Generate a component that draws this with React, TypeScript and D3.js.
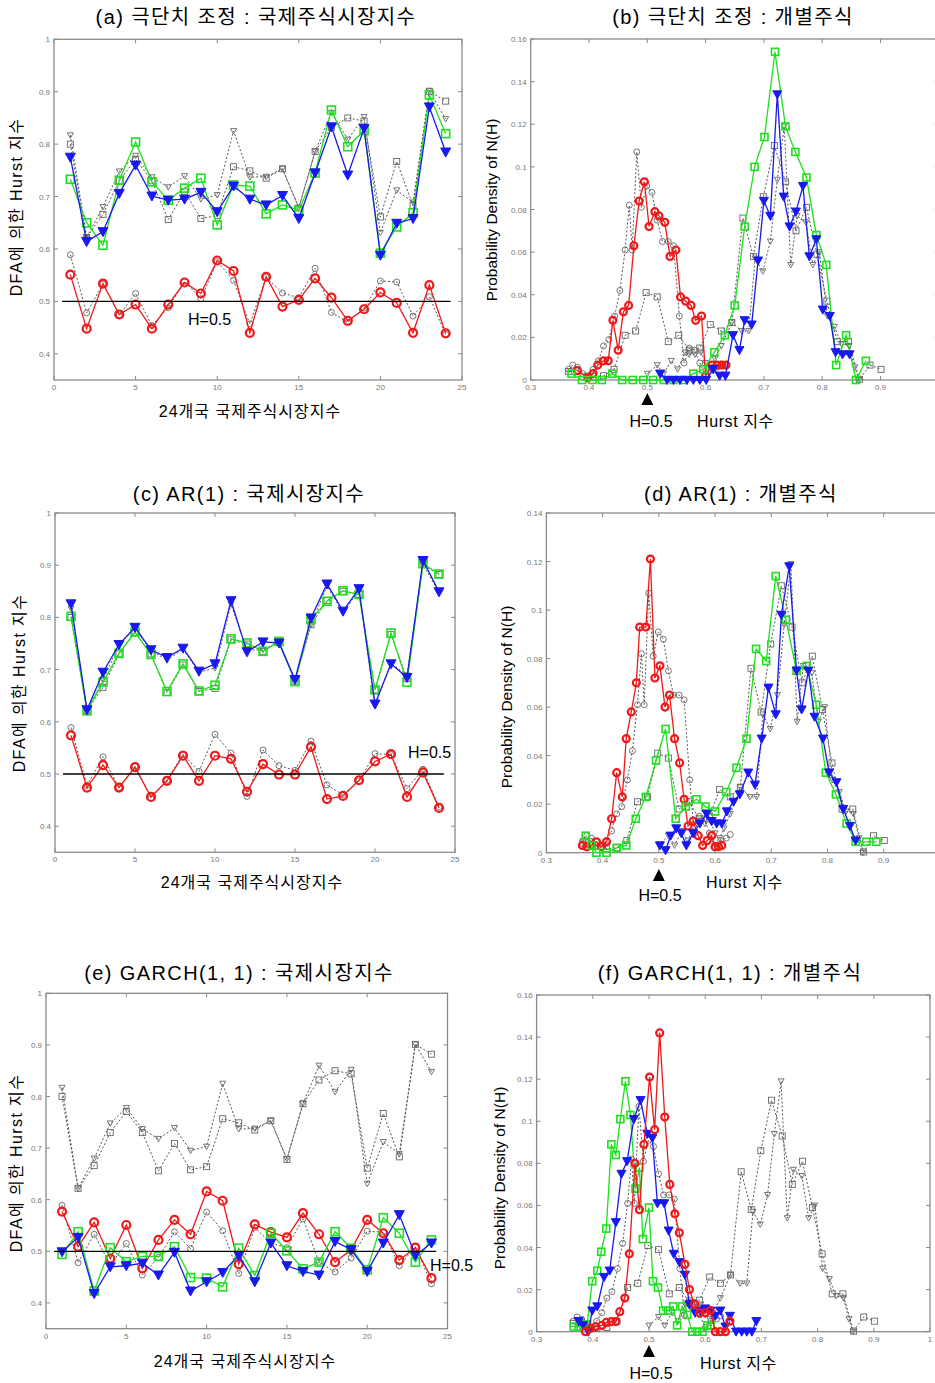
import React from "react";
import * as d3 from "d3";

// ---------- DATA ----------
const markets = d3.range(1, 25); // 24 national stock market indices

// original (unadjusted) DFA Hurst exponents — grey dotted series shared by (a),(c),(e)
const origTriangle = [0.817,0.622,0.680,0.748,0.778,0.737,0.718,0.739,0.695,0.703,0.825,0.737,0.738,0.753,0.679,0.786,0.860,0.809,0.852,0.631,0.712,0.689,0.901,0.848];
const origSquare = [0.800,0.622,0.666,0.730,0.771,0.730,0.656,0.709,0.658,0.664,0.757,0.749,0.735,0.753,0.678,0.786,0.832,0.850,0.844,0.661,0.767,0.683,0.901,0.882];
const origCircle = [0.589,0.478,0.533,0.474,0.515,0.454,0.488,0.538,0.505,0.576,0.540,0.457,0.546,0.516,0.507,0.563,0.479,0.460,0.487,0.539,0.537,0.472,0.509,0.437];

// (a) outlier adjusted
const aBlue = [0.775,0.614,0.633,0.706,0.760,0.701,0.693,0.695,0.708,0.671,0.720,0.695,0.684,0.702,0.658,0.745,0.833,0.741,0.830,0.588,0.649,0.658,0.871,0.785];
const aGreen = [0.733,0.650,0.607,0.731,0.804,0.728,0.693,0.716,0.735,0.646,0.722,0.720,0.667,0.684,0.674,0.745,0.865,0.795,0.826,0.592,0.642,0.669,0.894,0.820];
const aRed = [0.551,0.448,0.534,0.475,0.494,0.448,0.494,0.536,0.515,0.578,0.558,0.440,0.547,0.490,0.503,0.544,0.507,0.463,0.485,0.517,0.497,0.440,0.531,0.439];

// (c) AR(1)
const cBlue = [0.826,0.623,0.695,0.748,0.781,0.738,0.723,0.741,0.697,0.711,0.832,0.734,0.753,0.751,0.681,0.799,0.864,0.812,0.855,0.634,0.711,0.685,0.909,0.849];
const cGreen = [0.802,0.621,0.676,0.731,0.772,0.729,0.658,0.711,0.659,0.670,0.759,0.751,0.735,0.754,0.677,0.796,0.831,0.851,0.844,0.661,0.770,0.676,0.903,0.883];
const cRed = [0.574,0.474,0.517,0.474,0.513,0.456,0.487,0.535,0.487,0.535,0.529,0.466,0.519,0.499,0.499,0.552,0.452,0.458,0.488,0.524,0.538,0.456,0.503,0.435];

// (e) GARCH(1,1)
const eBlue = [0.499,0.527,0.418,0.470,0.472,0.477,0.454,0.498,0.423,0.441,0.459,0.492,0.441,0.516,0.472,0.461,0.454,0.519,0.503,0.461,0.516,0.571,0.492,0.516];
const eGreen = [0.494,0.538,0.423,0.507,0.480,0.490,0.490,0.509,0.449,0.448,0.431,0.506,0.453,0.535,0.501,0.466,0.479,0.538,0.506,0.464,0.565,0.535,0.479,0.522];
const eRed = [0.577,0.509,0.556,0.486,0.551,0.467,0.522,0.561,0.533,0.616,0.598,0.475,0.552,0.537,0.527,0.574,0.533,0.479,0.503,0.561,0.535,0.483,0.507,0.448];

// density of N(H) — original individual stocks (grey dotted, shared by (b),(d),(f))
const densOrigCircle: [number, number][] = [[.365,.005],[.372,.007],[.380,.006],[.389,.003],[.398,.002],[.407,.005],[.416,.009],[.425,.016],[.434,.019],[.444,.030],[.453,.042],[.462,.061],[.469,.082],[.474,.061],[.482,.107],[.490,.081],[.499,.091],[.508,.088],[.517,.075],[.526,.065],[.536,.065],[.545,.063],[.555,.030],[.563,.008],[.572,.015],[.581,.014],[.590,.008],[.600,.002],[.610,.005],[.620,.006],[.627,.0075]];
const densOrigSquare: [number, number][] = [[.365,.004],[.380,.0045],[.407,.0016],[.425,.002],[.443,.005],[.462,.021],[.480,.023],[.498,.041],[.517,.039],[.536,.018],[.554,.021],[.572,.014],[.590,.015],[.608,.026],[.627,.023],[.645,.027],[.664,.076],[.682,.058],[.699,.086],[.718,.110],[.737,.093],[.755,.070],[.773,.081],[.791,.059],[.808,.037],[.826,.018],[.845,.018],[.864,.0003],[.882,.007],[.901,.005]];
const densOrigTriangle: [number, number][] = [[.500,.003],[.517,.007],[.528,.003],[.541,.009],[.552,.005],[.565,.013],[.572,.012],[.582,.012],[.592,.013],[.600,.008],[.608,.006],[.616,.010],[.627,.016],[.645,.027],[.662,.023],[.674,.023],[.685,.057],[.698,.051],[.711,.065],[.723,.094],[.735,.119],[.746,.054],[.757,.077],[.772,.074],[.784,.054],[.795,.060],[.809,.030],[.821,.025],[.833,.017],[.846,.016],[.856,.006],[.863,0]];

// (b) outlier adjusted
const bRed: [number, number][] = [[.380,.0044],[.398,.001],[.407,.003],[.415,.007],[.425,.009],[.433,.009],[.441,.028],[.450,.014],[.459,.032],[.468,.035],[.477,.063],[.486,.084],[.495,.093],[.503,.072],[.513,.079],[.520,.077],[.530,.074],[.539,.058],[.549,.061],[.557,.039],[.566,.037],[.575,.035],[.583,.028],[.593,.030],[.600,.002],[.611,.007],[.620,.007],[.628,.007],[.635,.007]];
const bGreen: [number, number][] = [[.370,.003],[.388,0],[.406,0],[.422,0],[.440,.003],[.457,0],[.475,0],[.493,0],[.510,0],[.528,0],[.545,0],[.562,0],[.579,.003],[.596,.005],[.615,.013],[.633,.021],[.650,.035],[.667,.072],[.684,.100],[.701,.114],[.719,.154],[.737,.119],[.754,.107],[.773,.095],[.790,.068],[.807,.054],[.824,.007],[.841,.021],[.858,0],[.875,.009]];
const bBlue: [number, number][] = [[.522,.003],[.534,0],[.545,0],[.556,0],[.568,0],[.579,0],[.590,0],[.601,0],[.613,.005],[.624,.002],[.634,.002],[.647,.021],[.658,.014],[.667,.028],[.679,.026],[.690,.056],[.700,.084],[.711,.077],[.723,.134],[.734,.086],[.744,.072],[.755,.079],[.767,.091],[.778,.058],[.790,.066],[.801,.033],[.813,.030],[.823,.013],[.835,.012],[.847,.012]];

// (d) AR(1)
const dRed: [number, number][] = [[.364,.003],[.372,.0025],[.380,.003],[.389,.0045],[.398,.0025],[.407,.0045],[.416,.014],[.425,.033],[.435,.023],[.442,.047],[.451,.058],[.460,.070],[.466,.093],[.477,.093],[.485,.121],[.493,.072],[.502,.077],[.511,.060],[.519,.065],[.528,.047],[.537,.037],[.545,.022],[.552,.011],[.561,.013],[.570,.007],[.578,.003],[.586,.005],[.594,.007],[.600,.0025],[.606,.0025],[.612,.003]];
const dGreen: [number, number][] = [[.370,.007],[.380,.003],[.389,0],[.407,0],[.425,.002],[.442,.003],[.459,.014],[.477,.023],[.495,.038],[.512,.051],[.530,.014],[.548,.019],[.567,.022],[.583,.019],[.600,.017],[.620,.025],[.638,.035],[.656,.047],[.673,.084],[.691,.079],[.708,.114],[.726,.096],[.745,.075],[.763,.077],[.780,.061],[.797,.033],[.815,.024],[.834,.012],[.850,.0045],[.869,.0045],[.887,.0045]];
const dBlue: [number, number][] = [[.502,.003],[.512,.001],[.521,.007],[.531,.010],[.540,.008],[.549,.003],[.561,.008],[.573,.012],[.585,.016],[.594,.013],[.603,.012],[.612,.012],[.621,.017],[.633,.021],[.644,.024],[.659,.033],[.671,.028],[.683,.047],[.695,.068],[.708,.057],[.718,.098],[.732,.118],[.745,.075],[.754,.059],[.766,.075],[.777,.056],[.792,.047],[.803,.033],[.816,.029],[.828,.018],[.840,.011],[.850,.005]];

// (f) GARCH(1,1)
const fRed: [number, number][] = [[.387,0],[.396,.0016],[.405,.0024],[.416,.003],[.424,.0044],[.433,.0048],[.441,.0048],[.448,.0095],[.457,.016],[.465,.037],[.475,.080],[.483,.058],[.491,.089],[.501,.121],[.510,.096],[.519,.142],[.528,.102],[.537,.070],[.546,.056],[.554,.047],[.564,.032],[.572,.020],[.581,.013],[.590,.009],[.600,.009],[.609,.010],[.618,0],[.627,0],[.636,0],[.644,.005]];
const fBlue: [number, number][] = [[.375,.005],[.383,.003],[.392,0],[.399,.010],[.408,.012],[.420,.026],[.430,.029],[.441,.052],[.451,.075],[.461,.081],[.473,.101],[.485,.110],[.497,.094],[.506,.092],[.515,.061],[.527,.061],[.535,.048],[.544,.037],[.554,.033],[.564,.027],[.572,.013],[.582,.009],[.591,.010],[.600,.011],[.609,.010],[.618,.0075],[.627,.010],[.636,.0024],[.644,.0075],[.655,0],[.665,0],[.674,0],[.683,0],[.691,.005]];
const fGreen: [number, number][] = [[.366,.0024],[.375,.0024],[.383,.003],[.390,.0035],[.399,.024],[.408,.029],[.415,.038],[.424,.049],[.433,.089],[.441,.084],[.449,.101],[.458,.119],[.467,.103],[.476,.068],[.483,.078],[.489,.044],[.500,.059],[.507,.024],[.516,.021],[.525,.010],[.534,.010],[.543,.012],[.550,.003],[.559,.012],[.568,.008],[.577,0],[.586,0],[.595,0],[.604,.003],[.610,.003]];

const lineXTicks = [0, 5, 10, 15, 20, 25];
const lineYTicks = [0.4, 0.5, 0.6, 0.7, 0.8, 0.9, 1];
const densXTicks = [0.3, 0.4, 0.5, 0.6, 0.7, 0.8, 0.9, 1];

// ---------- STYLE ----------
const FONT = "'Liberation Sans', Arial, 'Noto Sans CJK KR', sans-serif";
const RED = "#f01818";
const GREEN = "#1ee01e";
const BLUE = "#1818f0";
const GREY = "#666";
const AXIS = "#8a8a8a";
const W = 935;

type Kind = "circle" | "square" | "triangle";
type Style = { kind: Kind; color: string; grey: boolean };

function Marker({ kind, x, y, color, grey, big }: { kind: Kind; x: number; y: number; color: string; grey: boolean; big: boolean }) {
  const s = grey ? 6 : big ? 8 : 7;
  const sw = grey ? 0.9 : kind === "circle" ? 2.2 : 1.6;
  if (kind === "circle") return <circle cx={x} cy={y} r={s / 2} fill="none" stroke={color} strokeWidth={sw} />;
  if (kind === "square") return <rect x={x - s / 2} y={y - s / 2} width={s} height={s} fill="none" stroke={color} strokeWidth={sw} />;
  const t = grey ? s : s + 2;
  const d = `M${x - t / 2},${y - t * 0.4}L${x + t / 2},${y - t * 0.4}L${x},${y + t * 0.5}Z`;
  return <path d={d} fill={grey ? "none" : color} stroke={color} strokeWidth={grey ? 0.9 : 1} />;
}

function Series({ pts, st, big }: { pts: [number, number][]; st: Style; big: boolean }) {
  const line = d3.line<[number, number]>().x((d) => d[0]).y((d) => d[1]);
  return (
    <g>
      <path d={line(pts) || ""} fill="none" stroke={st.grey ? "#555" : st.color} strokeWidth={st.grey ? 1 : 1.3} strokeDasharray={st.grey ? "2,2" : undefined} />
      {pts.map((p, i) => (
        <Marker key={i} kind={st.kind} x={p[0]} y={p[1]} color={st.grey ? GREY : st.color} grey={st.grey} big={big} />
      ))}
    </g>
  );
}

function Frame({ x, y, xTicks, yTicks, fmtX, fmtY }: any) {
  const [xl, xr] = x.range();
  const [yb, yt] = y.range();
  const tl = 4;
  return (
    <g>
      <rect x={xl} y={yt} width={xr - xl} height={yb - yt} fill="none" stroke={AXIS} strokeWidth={1.3} />
      {xTicks.map((t: number) => (
        <g key={"x" + t}>
          <line x1={x(t)} x2={x(t)} y1={yb} y2={yb - tl} stroke={AXIS} />
          <line x1={x(t)} x2={x(t)} y1={yt} y2={yt + tl} stroke={AXIS} />
          {x(t) < W - 4 && (
            <text x={x(t)} y={yb + 10} fontSize={8} fill="#777" textAnchor="middle" fontFamily={FONT}>{fmtX(t)}</text>
          )}
        </g>
      ))}
      {yTicks.map((t: number) => (
        <g key={"y" + t}>
          <line x1={xl} x2={xl + tl} y1={y(t)} y2={y(t)} stroke={AXIS} />
          <line x1={xr} x2={xr - tl} y1={y(t)} y2={y(t)} stroke={AXIS} />
          <text x={xl - 4} y={y(t) + 3} fontSize={8} fill="#777" textAnchor="end" fontFamily={FONT}>{fmtY(t)}</text>
        </g>
      ))}
    </g>
  );
}

const fmt = (v: number) => String(+v.toFixed(2));

function LinePanel(p: any) {
  const x = d3.scaleLinear().domain([0, 25]).range([p.x0, p.x1]);
  const y = d3.scaleLinear().domain([0.35, 1]).range([p.yb, p.yt]);
  const mk = (vals: number[]) => vals.map((v, i) => [x(markets[i]), y(v)] as [number, number]);
  return (
    <g>
      <text x={p.tx} y={p.ty} fontSize={20} letterSpacing={1.4} textAnchor="middle" fontFamily={FONT}>{p.title}</text>
      <Frame x={x} y={y} xTicks={lineXTicks} yTicks={lineYTicks} fmtX={fmt} fmtY={fmt} />
      {p.series.map((s: any, i: number) => <Series key={i} pts={mk(s.values)} st={s.st} big={true} />)}
      <line x1={x(0.5)} x2={x(24.3)} y1={y(0.5)} y2={y(0.5)} stroke="#000" strokeWidth={1.3} />
      <text x={p.hx} y={p.hy} fontSize={16} fontFamily={FONT}>H=0.5</text>
      <text x={p.lx} y={p.ly} fontSize={16} letterSpacing={1} textAnchor="middle" fontFamily={FONT}>24개국 국제주식시장지수</text>
      <text transform={`translate(${p.yx},${p.yy}) rotate(-90)`} fontSize={16} letterSpacing={1.4} textAnchor="middle" fontFamily={FONT}>DFA에 의한 Hurst 지수</text>
    </g>
  );
}

function DensPanel(p: any) {
  const x = d3.scaleLinear().domain([0.3, 1]).range([p.x0, p.x1]);
  const y = d3.scaleLinear().domain([0, p.ymax]).range([p.yb, p.yt]);
  const yTicks = d3.range(0, p.ymax + 0.001, 0.02);
  const mk = (pts: [number, number][]) => pts.map((d) => [x(d[0]), y(d[1])] as [number, number]);
  const ax = x(0.5);
  return (
    <g>
      <text x={p.tx} y={p.ty} fontSize={20} letterSpacing={1.4} textAnchor="middle" fontFamily={FONT}>{p.title}</text>
      <Frame x={x} y={y} xTicks={densXTicks} yTicks={yTicks} fmtX={fmt} fmtY={fmt} />
      {p.series.map((s: any, i: number) => <Series key={i} pts={mk(s.values)} st={s.st} big={false} />)}
      <path d={`M${ax - 6},${p.ay + 12}L${ax + 6},${p.ay + 12}L${ax},${p.ay}Z`} fill="#000" />
      <text x={p.hx} y={p.hy} fontSize={16} textAnchor="middle" fontFamily={FONT}>H=0.5</text>
      <text x={p.lx} y={p.ly} fontSize={16} letterSpacing={0.6} fontFamily={FONT}>Hurst  지수</text>
      <text transform={`translate(${p.yx},${p.yy}) rotate(-90)`} fontSize={15.5} textAnchor="middle" fontFamily={FONT}>Probability Density of N(H)</text>
    </g>
  );
}

const gTri: Style = { kind: "triangle", color: GREY, grey: true };
const gSq: Style = { kind: "square", color: GREY, grey: true };
const gCi: Style = { kind: "circle", color: GREY, grey: true };
const sBlue: Style = { kind: "triangle", color: BLUE, grey: false };
const sGreen: Style = { kind: "square", color: GREEN, grey: false };
const sRed: Style = { kind: "circle", color: RED, grey: false };

const origLine = [
  { values: origTriangle, st: gTri },
  { values: origSquare, st: gSq },
  { values: origCircle, st: gCi },
];
const origDens = [
  { values: densOrigTriangle, st: gTri },
  { values: densOrigSquare, st: gSq },
  { values: densOrigCircle, st: gCi },
];

export default function App() {
  return (
    <svg width={W} height={1383} style={{ position: "absolute", left: 0, top: 0, background: "#fff" }}>
      <LinePanel title="(a) 극단치  조정 : 국제주식시장지수" tx={256} ty={24} x0={54} x1={462} yt={39.3} yb={380}
        series={[...origLine, { values: aGreen, st: sGreen }, { values: aBlue, st: sBlue }, { values: aRed, st: sRed }]}
        hx={188} hy={325} lx={250} ly={417} yx={22} yy={207} />
      <LinePanel title="(c) AR(1) : 국제시장지수" tx={249} ty={501} x0={55} x1={455} yt={513} yb={852.3}
        series={[...origLine, { values: cGreen, st: sGreen }, { values: cBlue, st: sBlue }, { values: cRed, st: sRed }]}
        hx={408} hy={758} lx={252} ly={888} yx={25} yy={683} />
      <LinePanel title="(e) GARCH(1, 1) : 국제시장지수" tx={239} ty={980} x0={46} x1={447.5} yt={993.3} yb={1328.7}
        series={[...origLine, { values: eRed, st: sRed }, { values: eGreen, st: sGreen }, { values: eBlue, st: sBlue }]}
        hx={430} hy={1271} lx={245} ly={1367} yx={22} yy={1163} />
      <DensPanel title="(b) 극단치  조정 : 개별주식" tx={733} ty={24} x0={530.7} x1={938.8} yt={39} yb={380} ymax={0.16}
        series={[...origDens, { values: bRed, st: sRed }, { values: bGreen, st: sGreen }, { values: bBlue, st: sBlue }]}
        ay={393} hx={651} hy={427} lx={697} ly={427} yx={497} yy={210} />
      <DensPanel title="(d) AR(1) : 개별주식" tx={741} ty={501} x0={546.4} x1={939.9} yt={513} yb={852.7} ymax={0.14}
        series={[...origDens, { values: dRed, st: sRed }, { values: dGreen, st: sGreen }, { values: dBlue, st: sBlue }]}
        ay={869} hx={660} hy={901} lx={706} ly={888} yx={512} yy={697} />
      <DensPanel title="(f) GARCH(1, 1) : 개별주식" tx={730} ty={980} x0={536.6} x1={930} yt={995} yb={1331.7} ymax={0.16}
        series={[...origDens, { values: fGreen, st: sGreen }, { values: fBlue, st: sBlue }, { values: fRed, st: sRed }]}
        ay={1345} hx={651} hy={1379} lx={700} ly={1369} yx={505} yy={1178} />
    </svg>
  );
}
